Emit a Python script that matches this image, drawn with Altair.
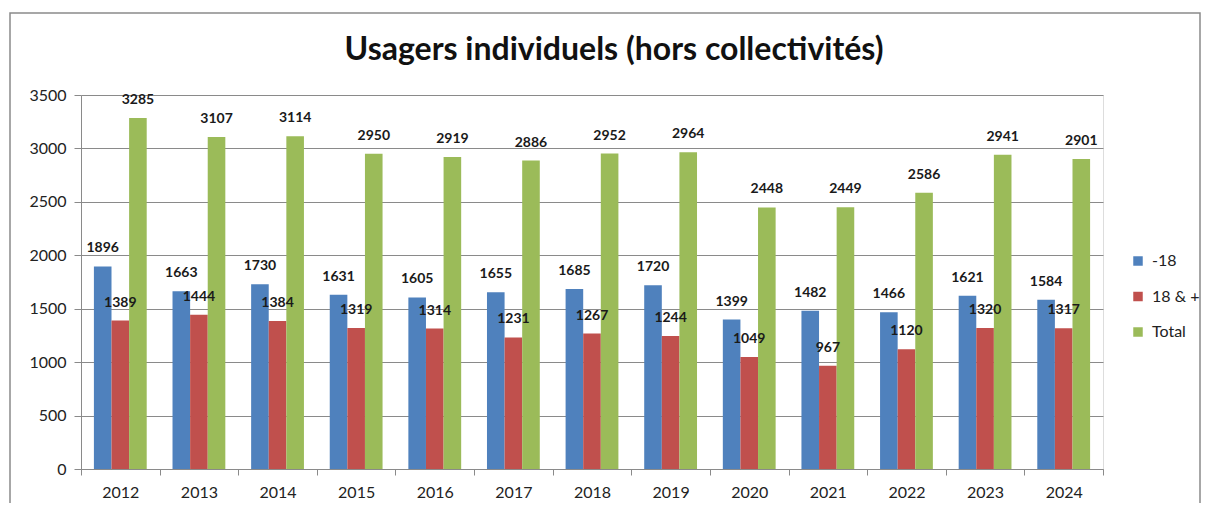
import altair as alt
import pandas as pd

years = ["2012", "2013", "2014", "2015", "2016", "2017", "2018", "2019", "2020", "2021", "2022", "2023", "2024"]
moins18 = [1896, 1663, 1730, 1631, 1605, 1655, 1685, 1720, 1399, 1482, 1466, 1621, 1584]
plus18 = [1389, 1444, 1384, 1319, 1314, 1231, 1267, 1244, 1049, 967, 1120, 1320, 1317]
total = [3285, 3107, 3114, 2950, 2919, 2886, 2952, 2964, 2448, 2449, 2586, 2941, 2901]
series = ["-18", "18 & +", "Total"]
colors = ["#4F81BD", "#C0504D", "#9BBB59"]

rows = []
for i, y in enumerate(years):
    for s, vals in zip(series, [moins18, plus18, total]):
        rows.append({"annee": y, "serie": s, "valeur": vals[i]})
df = pd.DataFrame(rows)

FONT = "Lato"

x_enc = alt.X("annee:N", sort=years, title=None,
              scale=alt.Scale(paddingInner=0, paddingOuter=0),
              axis=alt.Axis(labelAngle=0, tickBand="extent", labelFontSize=16,
                            labelFont=FONT, labelColor="#222222", labelPadding=9,
                            tickSize=6, tickColor="#8a8a8a", domainColor="#8a8a8a",
                            grid=False))
xo_enc = alt.XOffset("serie:N", sort=series,
                     scale=alt.Scale(paddingInner=0, paddingOuter=0.733))
y_enc = alt.Y("valeur:Q", title=None,
              scale=alt.Scale(domain=[0, 3500], nice=False),
              axis=alt.Axis(values=list(range(0, 3501, 500)), format="d", labelFontSize=16,
                            labelFont=FONT, labelColor="#222222", labelPadding=8,
                            tickSize=7, tickColor="#8a8a8a", domainColor="#8a8a8a",
                            gridColor="#8a8a8a", gridWidth=1))

base = alt.Chart(df)

bars = base.mark_bar().encode(
    x=x_enc, xOffset=xo_enc, y=y_enc,
    color=alt.Color("serie:N", sort=series, title=None,
                    scale=alt.Scale(domain=series, range=colors),
                    legend=alt.Legend(orient="none", legendX=1049, legendY=158,
                                      symbolType="square", symbolSize=90,
                                      symbolStrokeWidth=0, labelFontSize=16,
                                      labelFont=FONT, labelColor="#222222",
                                      rowPadding=19.5, labelOffset=6)),
)

labels = base.mark_text(fontWeight="bold", fontSize=14, font=FONT, color="#1a1a1a",
                        baseline="middle", dy=-18).encode(
    x=x_enc, xOffset=xo_enc, y=y_enc, text=alt.Text("valeur:Q", format="d"),
)

border = alt.Chart(pd.DataFrame({"a": [0]})).mark_rect(
    fill=None, stroke="#8a8a8a", strokeWidth=1.5).encode(
    x=alt.value(-71), x2=alt.value(1119), y=alt.value(-82), y2=alt.value(440),
)

chart = alt.layer(border, bars, labels).properties(
    width=1022, height=374,
    title=alt.TitleParams("Usagers individuels (hors collectivités)", fontSize=32,
                          font=FONT, fontWeight="bold", color="#111111",
                          anchor="middle", dx=22, offset=0, dy=55),
    autosize=alt.AutoSizeParams(type="none"),
    padding={"left": 73, "top": 87, "right": 98, "bottom": 34},
).configure_view(stroke=None).configure(background="white")

chart.save("out.html", embed_options={"renderer": "svg", "actions": False})
